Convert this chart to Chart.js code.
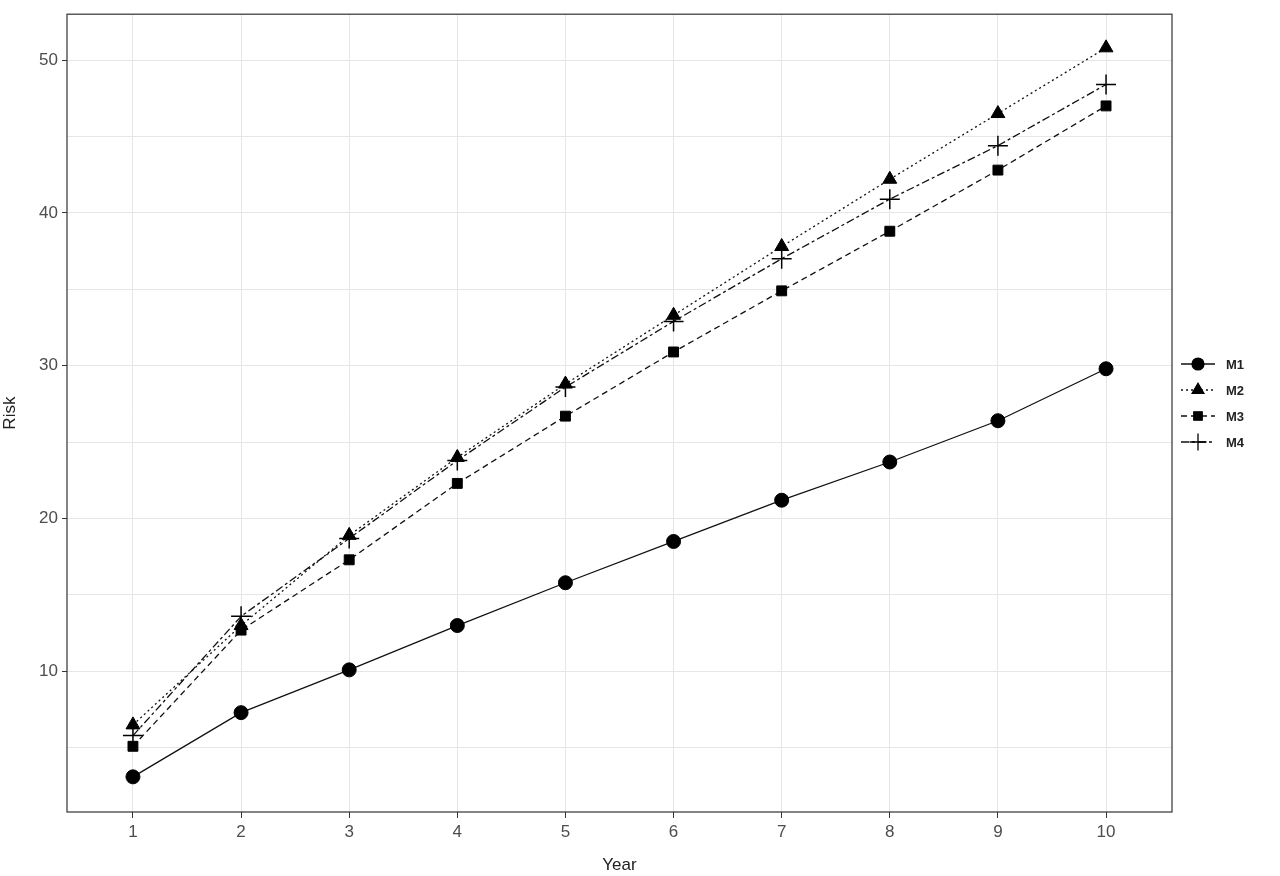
<!DOCTYPE html>
<html><head><meta charset="utf-8">
<script src="https://cdn.jsdelivr.net/npm/chart.js@4"></script>
<style>html,body{margin:0;padding:0;background:#fff}#w{width:1280px;height:876px}</style>
</head><body><div id="w"><canvas id="c"></canvas></div>
<script>
const years=[1,2,3,4,5,6,7,8,9,10];
const m1=[3.1,7.3,10.1,13.0,15.8,18.5,21.2,23.7,26.4,29.8];
const m2=[6.5,13.0,18.9,24.0,28.8,33.3,37.8,42.2,46.5,50.8];
const m3=[5.1,12.7,17.3,22.3,26.7,30.9,34.9,38.8,42.8,47.0];
const m4=[5.8,13.6,18.7,23.8,28.6,32.9,37.0,40.9,44.4,48.4];
const names=['M1','M2','M3','M4'];
const yTicks=[5,10,15,20,25,30,35,40,45,50];
const yLabels=[10,20,30,40,50];
const styles=[
 {ps:'circle',r:7,dash:[]},
 {ps:'triangle',r:8,dash:[2,3]},
 {ps:'rect',r:7,dash:[6,4]},
 {ps:'cross',r:10,dash:[8,3,3,3]}];
const series=[m1,m2,m3,m4];
const datasets=series.map((s,i)=>({label:names[i],data:s.map((v,j)=>({x:years[j],y:v})),
 borderColor:'#111',backgroundColor:'#000',borderWidth:1.3,borderDash:styles[i].dash,
 pointStyle:styles[i].ps,pointRadius:styles[i].r,pointBorderColor:'#000',pointBorderWidth:i==3?1.5:1,
 pointBackgroundColor:'#000',tension:0}));
const extra={id:'extra',
 beforeDatasetsDraw(c){},
 afterDraw(c){const ctx=c.ctx,a=c.chartArea;ctx.save();
  ctx.strokeStyle='#333';ctx.lineWidth=1.2;ctx.setLineDash([]);
  ctx.strokeRect(a.left,a.top,a.right-a.left,a.bottom-a.top);
  // legend
  const x0=1198,y0=364,dy=26;
  names.forEach((n,i)=>{const y=y0+i*dy;ctx.strokeStyle='#111';ctx.lineWidth=1.3;ctx.setLineDash(styles[i].dash);
   ctx.beginPath();ctx.moveTo(x0-17,y);ctx.lineTo(x0+17,y);ctx.stroke();ctx.setLineDash([]);
   ctx.fillStyle='#000';ctx.strokeStyle='#000';
   Chart.helpers.drawPoint(ctx,{pointStyle:styles[i].ps,radius:styles[i].r*0.85,borderWidth:1.5},x0,y);
   if(styles[i].ps!=='cross')ctx.fill();
   ctx.fillStyle='#222';ctx.font='bold 13px Arial, "Liberation Sans"';ctx.textBaseline='middle';ctx.fillText(n,x0+28,y+1);});
  ctx.restore();}};
new Chart(document.getElementById('c'),{type:'line',data:{datasets},
 options:{responsive:true,maintainAspectRatio:false,animation:false,
  layout:{padding:{left:0,top:5,right:108,bottom:0}},
  plugins:{legend:{display:false},tooltip:{enabled:false}},
  scales:{
   x:{type:'linear',min:0.39,max:10.61,
    afterBuildTicks(s){s.ticks=years.map(v=>({value:v}));},
    afterFit(s){s.height=64;},
    grid:{color:'#e6e6e6',lineWidth:1,drawTicks:true,tickLength:6,tickColor:'#333'},border:{display:false},
    ticks:{color:'#4d4d4d',font:{size:17,family:'Arial, "Liberation Sans"'},padding:4,maxRotation:0},
    title:{display:true,text:'Year',color:'#222',font:{size:17,family:'Arial, "Liberation Sans"'},padding:{top:0,bottom:0}}},
   y:{type:'linear',min:0.8,max:53,
    afterBuildTicks(s){s.ticks=yTicks.map(v=>({value:v}));},
    afterFit(s){s.width=67;},
    grid:{color:'#e6e6e6',lineWidth:1,tickLength:5,tickColor:c=>yLabels.includes(c.tick&&c.tick.value)?'#333':'rgba(0,0,0,0)'},border:{display:false},
    ticks:{color:'#4d4d4d',font:{size:17,family:'Arial, "Liberation Sans"'},padding:4,
     callback:v=>yLabels.includes(v)?String(v):''},
    title:{display:true,text:'Risk',color:'#222',font:{size:17,family:'Arial, "Liberation Sans"'},padding:{top:0,bottom:4}}}}},
 plugins:[extra]});
</script></body></html>
